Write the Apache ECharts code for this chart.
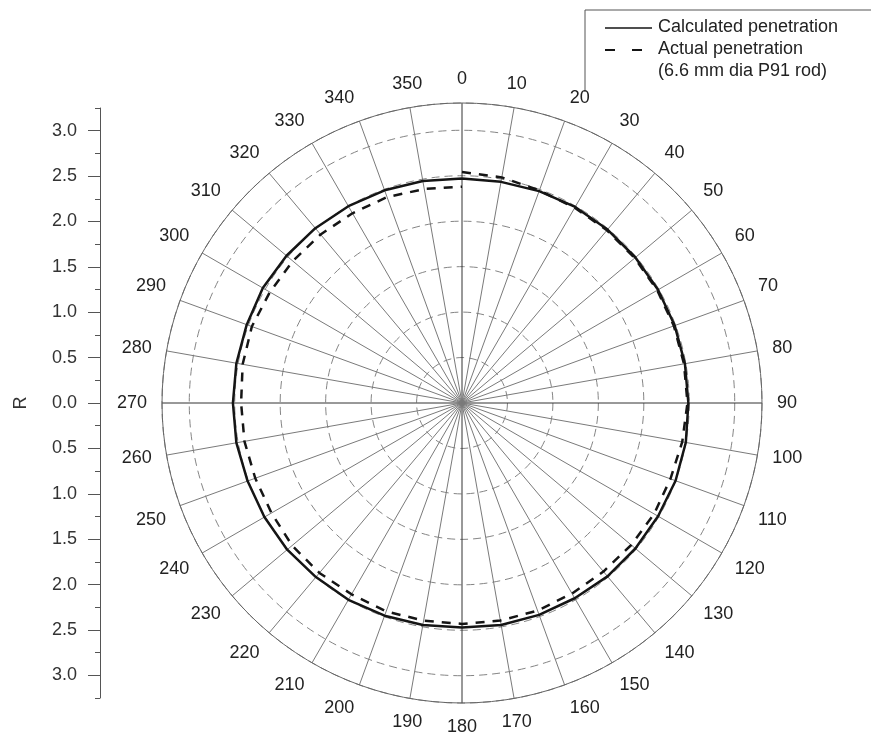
<!DOCTYPE html>
<html>
<head>
<meta charset="utf-8">
<script src="https://cdn.jsdelivr.net/npm/echarts@6/dist/echarts.min.js"></script>
<style>
html,body{margin:0;padding:0;background:#fff;}
#chart{width:871px;height:743px;}
</style>
</head>
<body>
<div id="chart"></div>
<script>
// Angles (degrees, clockwise from top)
var angles = [0,10,20,30,40,50,60,70,80,90,100,110,120,130,140,150,160,170,180,190,200,210,220,230,240,250,260,270,280,290,300,310,320,330,340,350,360];
// Calculated penetration radius (R)
var calculated = [2.47,2.47,2.48,2.49,2.49,2.49,2.49,2.49,2.49,2.49,2.50,2.50,2.49,2.49,2.49,2.48,2.48,2.48,2.47,2.48,2.49,2.50,2.50,2.51,2.51,2.51,2.52,2.52,2.52,2.52,2.53,2.52,2.51,2.50,2.49,2.48,2.47];
// Actual penetration radius (R)
var actual = [2.54,2.52,2.49,2.48,2.48,2.48,2.48,2.48,2.48,2.48,2.46,2.44,2.44,2.43,2.42,2.42,2.43,2.43,2.43,2.43,2.44,2.43,2.44,2.44,2.42,2.42,2.43,2.43,2.45,2.46,2.44,2.43,2.42,2.41,2.41,2.39,2.38];
// Left R-axis tick labels
var majorTicks = [-3,-2.5,-2,-1.5,-1,-0.5,0,0.5,1,1.5,2,2.5,3];
var minorTicks = [-3.25,-2.75,-2.25,-1.75,-1.25,-0.75,-0.25,0.25,0.75,1.25,1.75,2.25,2.75,3.25];
var legendLabels = ['Calculated penetration','Actual penetration','(6.6 mm dia P91 rod)'];

var FONT = 'Liberation Sans, Arial, sans-serif';
var calcData = angles.map(function(a,i){return [calculated[i], a];});
var actData = angles.map(function(a,i){return [actual[i], a];});

var splitColors = ['#333333','#7a7a7a','#7a7a7a','#7a7a7a','#7a7a7a','#7a7a7a','#7a7a7a','#7a7a7a','#7a7a7a'];

var chart = echarts.init(document.getElementById('chart'), null, {renderer:'canvas'});
chart.setOption({
  backgroundColor:'#ffffff',
  animation:false,
  polar:{center:[462,403], radius:300},
  angleAxis:{
    type:'value', min:0, max:360, interval:10, startAngle:90, clockwise:true,
    axisLine:{show:true, lineStyle:{color:'#666', width:1}},
    axisTick:{show:false},
    axisLabel:{margin:15, fontSize:18, color:'#222', fontFamily:FONT},
    splitLine:{show:true, lineStyle:{color:splitColors, width:1}}
  },
  radiusAxis:{
    type:'value', min:0, max:3.3, interval:0.5,
    axisLine:{show:false}, axisTick:{show:false}, axisLabel:{show:false},
    splitLine:{show:true, lineStyle:{type:[8,5], color:'#858585', width:1}}
  },
  grid:{left:100, width:10, top:108, height:590},
  xAxis:{type:'value', show:false, min:0, max:1},
  yAxis:[{
    type:'value', position:'left', min:-3.25, max:3.25,
    axisLine:{show:true, lineStyle:{color:'#555', width:1}},
    axisTick:{show:true, length:12, customValues:majorTicks, lineStyle:{color:'#555'}},
    axisLabel:{show:true, customValues:majorTicks, margin:23, fontSize:18, color:'#333', fontFamily:FONT,
      formatter:function(v){return Math.abs(v).toFixed(1);}},
    splitLine:{show:false},
    name:'R', nameLocation:'middle', nameGap:70, nameRotate:90,
    nameTextStyle:{fontSize:18, color:'#333', fontFamily:FONT}
  },{
    type:'value', position:'left', min:-3.25, max:3.25,
    axisLine:{show:false},
    axisTick:{show:true, length:5, customValues:minorTicks, lineStyle:{color:'#555'}},
    axisLabel:{show:false},
    splitLine:{show:false}
  }],
  series:[{
    name:legendLabels[0], type:'line', coordinateSystem:'polar', data:calcData,
    symbol:'none', smooth:false,
    lineStyle:{color:'#151515', width:2.5, type:'solid'}
  },{
    name:legendLabels[1], type:'line', coordinateSystem:'polar', data:actData,
    symbol:'none', smooth:false,
    lineStyle:{color:'#151515', width:2.5, type:[9,8]}
  }],
  graphic:[
    {type:'polyline', shape:{points:[[585,92],[585,10],[875,10]]}, style:{stroke:'#555', lineWidth:1, fill:null}},
    {type:'line', shape:{x1:605,y1:28,x2:652,y2:28}, style:{stroke:'#151515', lineWidth:1.5}},
    {type:'line', shape:{x1:605,y1:50,x2:615,y2:50}, style:{stroke:'#151515', lineWidth:2}},
    {type:'line', shape:{x1:632,y1:50,x2:642,y2:50}, style:{stroke:'#151515', lineWidth:2}},
    {type:'text', left:658, top:18, style:{text:legendLabels[0], fontSize:18, fill:'#222', fontFamily:FONT}},
    {type:'text', left:658, top:40, style:{text:legendLabels[1], fontSize:18, fill:'#222', fontFamily:FONT}},
    {type:'text', left:658, top:62, style:{text:legendLabels[2], fontSize:18, fill:'#222', fontFamily:FONT}}
  ]
});
</script>
</body>
</html>
